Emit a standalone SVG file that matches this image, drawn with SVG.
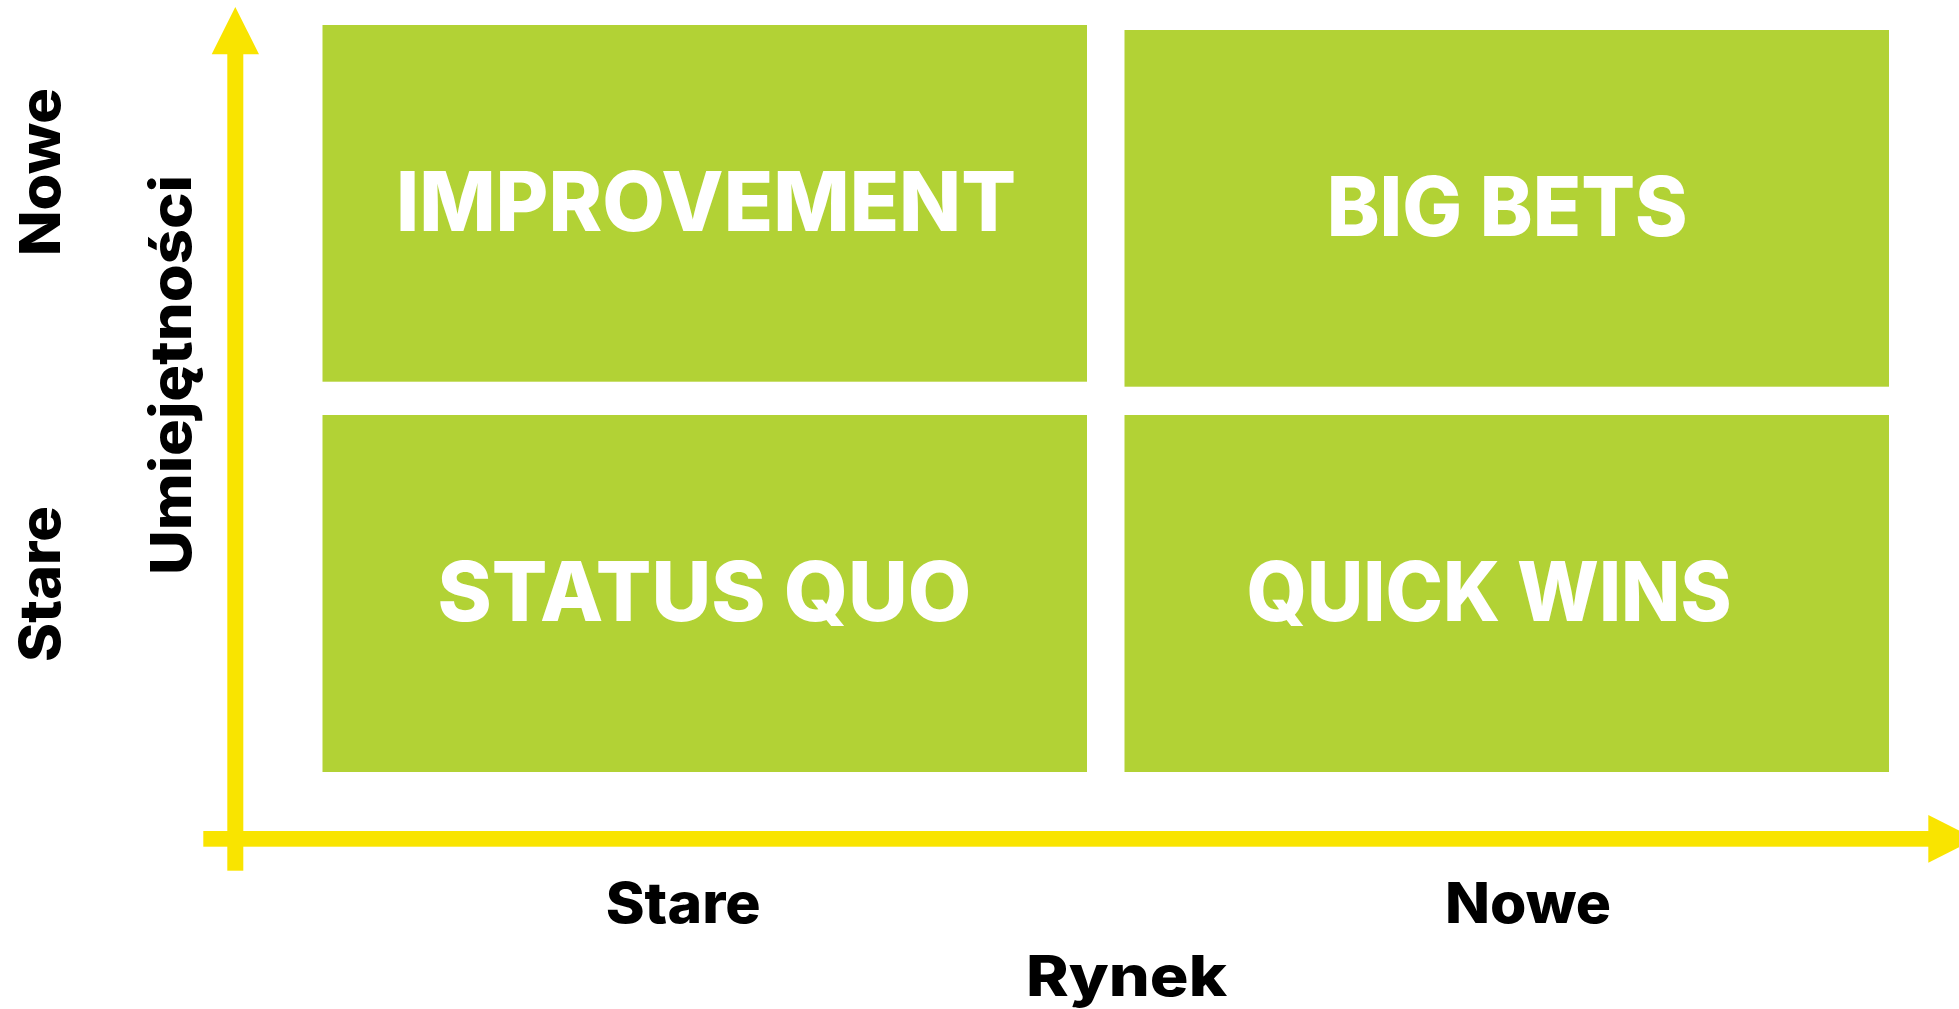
<svg xmlns="http://www.w3.org/2000/svg" width="1959" height="1009" viewBox="0 0 1959 1009">
  <style>
    .quad { fill: #B2D235; }
    .qlabel { font-family: "Inter", "Open Sans", "Liberation Sans", sans-serif; font-weight: 800; font-size: 83px; fill: #FFFFFF; }
    .axis { fill: #F9E400; }
    .alabel { font-family: "Inter", "Open Sans", "Liberation Sans", sans-serif; font-weight: 800; font-size: 56px; fill: #000000; }
  </style>
  <rect width="1959" height="1009" fill="#FFFFFF"/>

  <!-- quadrants -->
  <g id="improvement">
    <rect class="quad" x="322.5" y="25" width="764.5" height="356.7"/>
    <text class="qlabel" x="396" y="230.7" textLength="620" lengthAdjust="spacingAndGlyphs">IMPROVEMENT</text>
  </g>
  <g id="big-bets">
    <rect class="quad" x="1124.5" y="30" width="764.5" height="356.7"/>
    <text class="qlabel" x="1326.7" y="235.7" textLength="361" lengthAdjust="spacingAndGlyphs">BIG BETS</text>
  </g>
  <g id="status-quo">
    <rect class="quad" x="322.5" y="415" width="764.5" height="357"/>
    <text class="qlabel" x="437.4" y="621" textLength="534" lengthAdjust="spacingAndGlyphs">STATUS QUO</text>
  </g>
  <g id="quick-wins">
    <rect class="quad" x="1124.5" y="415" width="764.5" height="357"/>
    <text class="qlabel" x="1246.5" y="621" textLength="485" lengthAdjust="spacingAndGlyphs">QUICK WINS</text>
  </g>

  <!-- axes -->
  <g id="axes">
    <rect class="axis" x="227.3" y="50" width="16" height="820.7"/>
    <polygon class="axis" points="235.3,7 259,54.3 211.7,54.3"/>
    <rect class="axis" x="203.3" y="831" width="1729" height="15.7"/>
    <polygon class="axis" points="1928.3,815 1975.5,838.8 1928.3,862.7"/>
  </g>

  <!-- axis labels -->
  <g id="x-axis-labels">
    <text class="alabel" x="605.7" y="922.7" textLength="155" lengthAdjust="spacingAndGlyphs">Stare</text>
    <text class="alabel" x="1445" y="922.7" textLength="166" lengthAdjust="spacingAndGlyphs">Nowe</text>
    <text class="alabel" x="1026" y="996" textLength="201" lengthAdjust="spacingAndGlyphs">Rynek</text>
  </g>
  <g id="y-axis-labels">
    <text class="alabel" transform="translate(60,256) rotate(-90)" textLength="168" lengthAdjust="spacingAndGlyphs">Nowe</text>
    <text class="alabel" transform="translate(60,662) rotate(-90)" textLength="156" lengthAdjust="spacingAndGlyphs">Stare</text>
    <text class="alabel" transform="translate(191,575) rotate(-90)" textLength="400" lengthAdjust="spacingAndGlyphs">Umiejętności</text>
  </g>
</svg>
